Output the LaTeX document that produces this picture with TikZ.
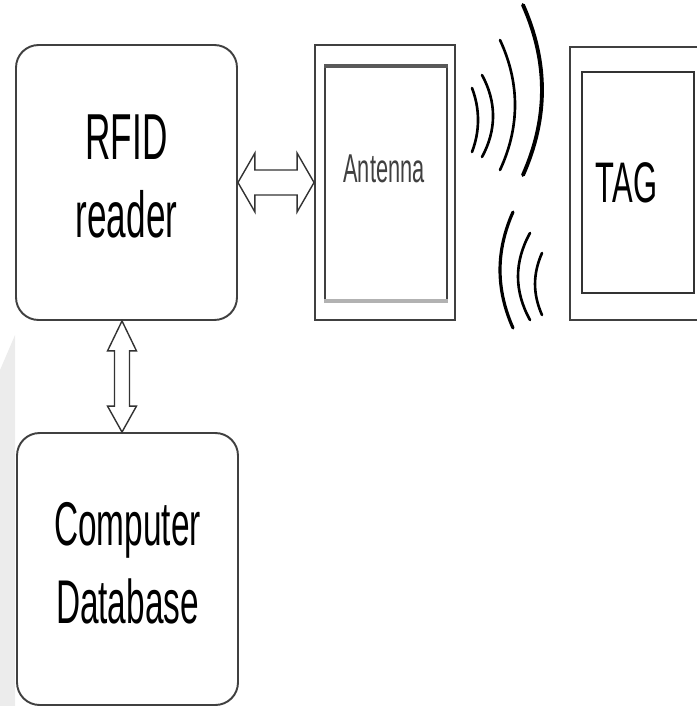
\documentclass[tikz,border=0pt]{standalone}
\usepackage{fontspec}
\setmainfont{Liberation Sans}
\usepackage{graphicx}
\usetikzlibrary{calc,positioning}
\tikzset{%
  block/.style  = {shape=rectangle, rounded corners=0.45cm,%
                   draw=gray!50!black, line width=1.1pt, inner sep=0pt},%
  frame/.style  = {shape=rectangle, draw=gray!50!black,%
                   line width=1.1pt, inner sep=0pt},%
  hollow/.style = {draw=gray!40!black, line width=0.8pt, fill=white},%
  wave/.style   = {line width=1.5pt, line cap=round}%
}
\newcommand{\tall}[1]{\scalebox{1}[1.85]{\begin{tabular}{@{}c@{}}#1\end{tabular}}}

\begin{document}
\begin{tikzpicture}[x=0.02cm, y=-0.02cm]
  \useasboundingbox (0,0) rectangle (696,706);
  \fill[gray!15] (0,370) -- (15,335) -- (15,706) -- (0,706) -- cycle;
  % reader and database
  \node[block, minimum width=4.42cm, minimum height=5.5cm] (reader) at (126.5,182.5)
    {\fontsize{20}{24}\selectfont\tall{RFID\\reader}};
  \node[block, minimum width=4.42cm, minimum height=5.44cm] (database) at (127.5,569)
    {\fontsize{19}{24}\selectfont\tall{Computer\\Database}};
  % antenna
  \node[frame, minimum width=2.8cm, minimum height=5.5cm] (antenna) at (385,182.5) {};
  \node[frame, minimum width=2.44cm, minimum height=4.66cm] (antennain) at (386,183.5) {};
  \draw[line width=2.2pt, gray!70!black] (antennain.north west) -- (antennain.north east);
  \draw[line width=2.6pt, gray!60] (antennain.south west) -- (antennain.south east);
  \node[text=black!75] (antennatext) at (384,172.5)
    {\fontsize{12.4}{15}\selectfont\tall{Antenna}};
  % tag
  \node[frame, minimum width=2.72cm, minimum height=5.46cm] (tag) at (638,183.5) {};
  \node[frame, draw=black!80, minimum width=2.24cm, minimum height=4.42cm] (tagin) at (638,182.5) {};
  \node (tagtext) at (626.5,189) {\fontsize{17.6}{20}\selectfont\tall{TAG}};
  % hollow double arrows
  \draw[hollow] (reader.east) -- ++(17,-29.5) -- ++(0,17)
    -- ($(antenna.west)+(-17,-12.5)$) -- ++(0,-17) -- (antenna.west)
    -- ++(-17,29.5) -- ++(0,-17) -- ($(reader.east)+(17,12.5)$) -- ++(0,17) -- cycle;
  \coordinate (up) at ($(reader.south)+(-4.5,0)$);
  \coordinate (down) at ($(database.north)+(-5.5,0)$);
  \draw[hollow] (up) -- ++(-14.5,30) -- ++(7,0)
    -- ($(down)+(-7.5,-26)$) -- ++(-7,0) -- (down)
    -- ++(14.5,-26) -- ++(-7,0) -- ($(up)+(7.5,30)$) -- ++(7,0) -- cycle;
  % waves
  \draw[wave, line width=2.2pt] (523,5) .. controls (548.3,62) and (548.3,118) .. (523,175);
  \draw[wave] (500,40) .. controls (520,83) and (520,127) .. (500,170);
  \draw[wave] (482,75) .. controls (496.7,102) and (496.7,130) .. (482,157);
  \draw[wave] (472,88) .. controls (480,109) and (480,131) .. (472,152);
  \draw[wave, line width=1.8pt] (513,212) .. controls (495.7,251) and (495.7,289) .. (513,328);
  \draw[wave] (530,233) .. controls (514,262) and (514,291) .. (530,320);
  \draw[wave] (542,253) .. controls (532.7,274) and (532.7,294) .. (542,315);
\end{tikzpicture}
\end{document}
